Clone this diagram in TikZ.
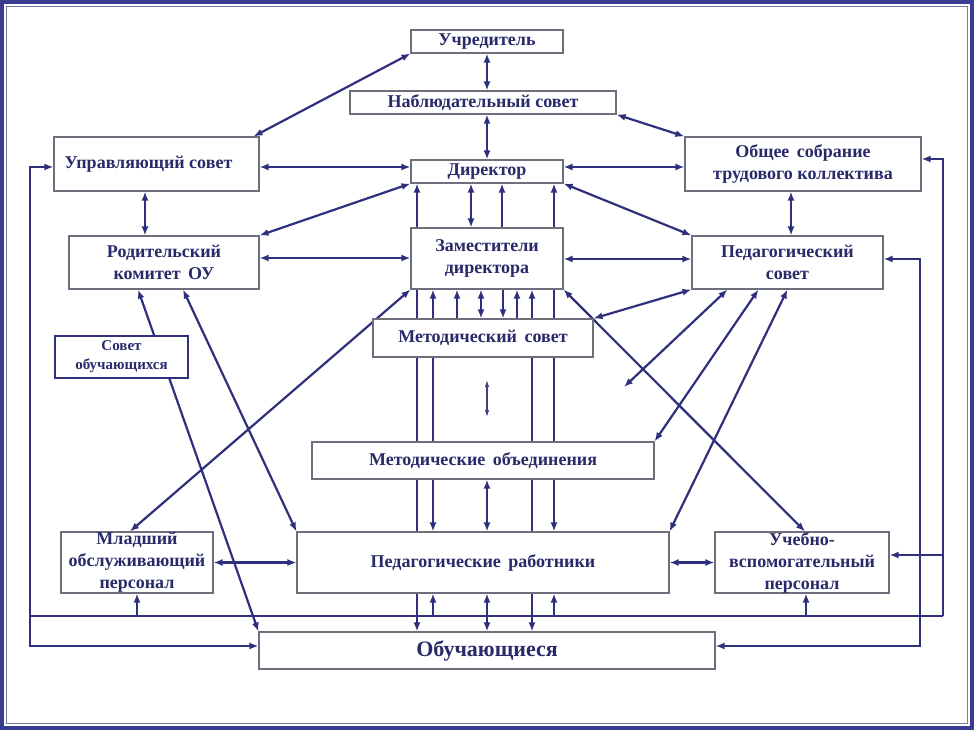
\documentclass[tikz,border=0pt]{standalone}
\usepackage{fontspec}
\setmainfont{Liberation Serif}
\usetikzlibrary{arrows.meta}
\pgfdeclarelayer{framelayer}
\pgfdeclarelayer{linelayer}
\pgfsetlayers{framelayer,linelayer,main}
\definecolor{navy}{RGB}{46,48,125}
\definecolor{txt}{RGB}{40,42,105}
\definecolor{boxgray}{RGB}{110,110,125}
\definecolor{band}{RGB}{58,60,145}
\definecolor{innerline}{RGB}{120,122,170}
\begin{document}
\begin{tikzpicture}[x=1pt,y=-1pt,
 box/.style={draw=boxgray,line width=1.1pt,fill=white,inner sep=0pt,align=center,text=txt,font=\fontsize{18}{22}\selectfont\bfseries},
 conn/.style={draw=navy,line width=2.2pt},
 dbl/.style={conn,{Latex[length=9pt,width=7pt]}-{Latex[length=9pt,width=7pt]}},
 arr/.style={conn,-{Latex[length=9pt,width=7pt]}},
 thindbl/.style={draw=navy!80!gray,line width=1.2pt,{Latex[length=7pt,width=4.5pt]}-{Latex[length=7pt,width=4.5pt]}},
]
\useasboundingbox (0,0) rectangle (974,730);
\begin{pgfonlayer}{framelayer}
\fill[band] (0,0) rectangle (974,730);
\fill[white] (4,4) rectangle (970,726);
\draw[innerline,line width=1.5pt] (6.5,6.5) rectangle (967.5,723.5);
\end{pgfonlayer}

% boxes
\node[box,minimum width=152pt,minimum height=23pt] (uch) at (487,41.5) {Учредитель};
\node[box,minimum width=266pt,minimum height=23pt] (nab) at (483,102.5) {Наблюдательный совет};
\node[box,minimum width=205pt,minimum height=54pt] (upr) at (156.5,164) {\hspace*{-16pt}Управляющий совет};
\node[box,minimum width=152pt,minimum height=23pt] (dir) at (487,171.5) {Директор};
\node[box,minimum width=236pt,minimum height=54pt] (obsh) at (803,164) {Общее\hspace{3pt} собрание\\трудового коллектива};
\node[box,minimum width=190pt,minimum height=53pt] (rod) at (164,262.5) {Родительский\\комитет\hspace{3pt} ОУ};
\node[box,minimum width=152pt,minimum height=61pt] (zam) at (487,258.5) {Заместители\\директора};
\node[box,minimum width=191pt,minimum height=53pt] (ped) at (787.5,262.5) {Педагогический\\совет};
\node[box,minimum width=220pt,minimum height=38pt] (ms) at (483,338) {Методический\hspace{3pt} совет};
\node[box,draw=navy,line width=2.8pt,minimum width=133pt,minimum height=42pt,font=\fontsize{15}{19}\selectfont\bfseries] (sov) at (121.5,357) {Совет\\обучающихся};
\node[box,minimum width=342pt,minimum height=37pt] (mo) at (483,460.5) {Методические\hspace{3pt} объединения};
\node[box,minimum width=152pt,minimum height=61pt] (ml) at (137,562.5) {Младший\\обслуживающий\\персонал};
\node[box,minimum width=372pt,minimum height=61pt] (pr) at (483,562.5) {Педагогические\hspace{3pt} работники};
\node[box,minimum width=174pt,minimum height=61pt] (uv) at (802,562.5) {Учебно-\\вспомогательный\\персонал};
\node[box,minimum width=456pt,minimum height=37pt,font=\fontsize{22}{26}\selectfont\bfseries] (ob) at (487,650.5) {Обучающиеся};

% helper coordinates
\coordinate (lt) at (30,167);
\coordinate (lb) at (30,646);
\coordinate (bl) at (30,616);
\coordinate (rt1) at (943,159);
\coordinate (rb1) at (943,616);
\coordinate (rj) at (943,555);
\coordinate (rt2) at (920,259);
\coordinate (rb2) at (920,646);
\coordinate (fe) at (624,387);
\coordinate (fa) at (487,380);
\coordinate (fb) at (487,417);
\coordinate (p433) at ([xshift=-50pt]pr.south);
\coordinate (p554) at ([xshift=71pt]pr.south);
\coordinate (u806) at ([xshift=4pt]uv.south);

\begin{pgfonlayer}{linelayer}
% central vertical
\draw[dbl] (uch.south) -- ([xshift=4pt]nab.north);
\draw[dbl] ([xshift=4pt]nab.south) -- (dir.north);
\draw[dbl] ([xshift=-70pt]dir.south) -- ([xshift=-70pt]ob.north);
\draw[dbl] ([xshift=-54pt]zam.south) -- ([xshift=-50pt]pr.north);
\draw[dbl] ([xshift=45pt]zam.south) -- ([xshift=45pt]ob.north);
\draw[dbl] ([xshift=67pt]dir.south) -- ([xshift=71pt]pr.north);
\draw[dbl] ([xshift=-16pt]dir.south) -- ([xshift=-16pt]zam.north);
\draw[arr] ([xshift=15pt]zam.north) -- ([xshift=15pt]dir.south);
\draw[arr] ([xshift=-26pt]ms.north) -- ([xshift=-30pt]zam.south);
\draw[dbl] ([xshift=-6pt]zam.south) -- ([xshift=-2pt]ms.north);
\draw[arr] ([xshift=16pt]zam.south) -- ([xshift=20pt]ms.north);
\draw[arr] ([xshift=34pt]ms.north) -- ([xshift=30pt]zam.south);
\draw[thindbl] (fa) -- (fb);
\draw[dbl] ([xshift=4pt]mo.south) -- ([xshift=4pt]pr.north);
\draw[dbl] ([xshift=4pt]pr.south) -- (ob.north);
% horizontals
\draw[dbl] ([yshift=-3pt]upr.east) -- ([yshift=4.5pt]dir.west);
\draw[dbl] ([yshift=4.5pt]dir.east) -- ([yshift=-3pt]obsh.west);
\draw[dbl] ([yshift=4.5pt]rod.east) -- ([yshift=0.5pt]zam.west);
\draw[dbl] ([yshift=-0.5pt]zam.east) -- ([yshift=3.5pt]ped.west);
\draw[dbl] (ml.east) -- (pr.west);
\draw[dbl] (pr.east) -- (uv.west);
% short verticals
\draw[dbl] ([xshift=-11.5pt]upr.south) -- ([xshift=-19pt]rod.north);
\draw[dbl] ([xshift=-12pt]obsh.south) -- ([xshift=3.5pt]ped.north);
% diagonals
\draw[dbl] ([xshift=-6pt]upr.north east) -- (uch.south west);
\draw[dbl] (nab.south east) -- (obsh.north west);
\draw[dbl] (dir.south west) -- (rod.north east);
\draw[dbl] (dir.south east) -- (ped.north west);
\draw[dbl] (ped.south west) -- (ms.north east);
\draw[dbl] (zam.south east) -- ([xshift=3pt]uv.north);
\draw[dbl] ([xshift=36pt]ped.south west) -- (fe);
\draw[dbl] ([xshift=67pt]ped.south west) -- (mo.north east);
\draw[dbl] ([xshift=96pt]ped.south west) -- (pr.north east);
\draw[dbl] (zam.south west) -- ([xshift=-7pt]ml.north);
\draw[dbl] ([xshift=-26pt]rod.south) -- (ob.north west);
\draw[dbl] ([xshift=19pt]rod.south) -- (pr.north west);
% outer loops
\draw[dbl] ([yshift=-3pt]upr.west) -- (lt) -- (lb) -- ([yshift=4.5pt]ob.west);
\draw[conn] (bl) -- (rb1);
\draw[arr] (rb1) -- (rt1) -- ([yshift=5pt]obsh.east);
\draw[arr] (rj) -- ([yshift=7.5pt]uv.east);
\draw[dbl] ([yshift=3.5pt]ped.east) -- (rt2) -- (rb2) -- ([yshift=4.5pt]ob.east);
\draw[arr] (ml.south |- bl) -- (ml.south);
\draw[arr] (p433 |- bl) -- (p433);
\draw[arr] (p554 |- bl) -- (p554);
\draw[arr] (u806 |- bl) -- (u806);
\end{pgfonlayer}
\end{tikzpicture}
\end{document}
